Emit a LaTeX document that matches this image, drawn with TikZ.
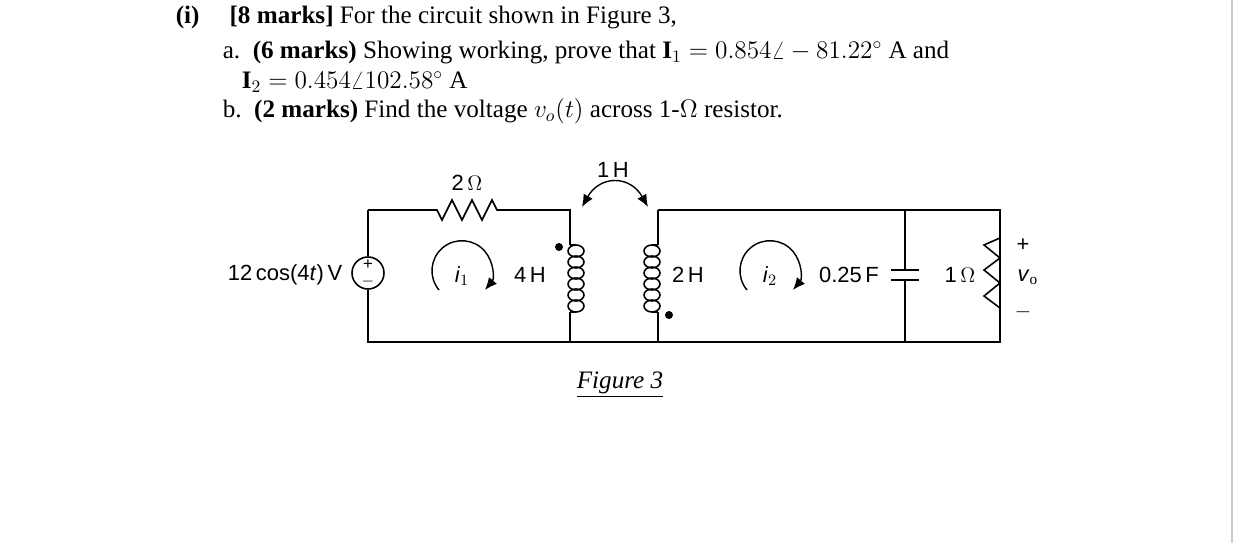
\documentclass[tikz,border=0pt]{standalone}
\usepackage{fontspec}
\setmainfont{Liberation Serif}
\newfontfamily\circfont{Liberation Sans}
\usetikzlibrary{arrows.meta}
\begin{document}
\begin{tikzpicture}[x=0.02cm,y=-0.02cm,line width=0.9pt]
	\tikzset{lbl/.style={font=\circfont\fontsize{12.5}{14}\selectfont,inner sep=0pt},
		txt/.style={font=\fontsize{14.3}{17}\selectfont,anchor=base west,inner sep=0pt},
		loopar/.style={-{Latex[length=7pt,width=6pt]},line width=0.8pt}}
	\useasboundingbox (0,0) rectangle (1242,543);
	\draw[gray!40,line width=0.6pt] (1232,0) -- (1232,543);
	% text of the question
	\node[txt] (q0) at (175,24) {\textbf{(i)}\hspace{1.2em}\textbf{[8 marks]} For the circuit shown in Figure 3,};
	\node[txt] (qa) at (222,59) {a.\ \ \textbf{(6 marks)} Showing working, prove that $\mathbf{I}_1=0.854\angle-81.22^\circ$ A and};
	\node[txt] (qa2) at (241,89) {$\mathbf{I}_2=0.454\angle102.58^\circ$ A};
	\node[txt] (qb) at (222,118) {b.\ \ \textbf{(2 marks)} Find the voltage $v_o(t)$ across 1-$\Omega$ resistor.};
	\node[txt,anchor=center] (fig) at (620,385) {\underline{\textit{Figure 3}}};
	% corners
	\coordinate (tl) at (368,210); \coordinate (bl) at (368,342);
	\coordinate (tm) at (570,210); \coordinate (bm) at (570,342);
	\coordinate (tn) at (658,210); \coordinate (bn) at (658,342);
	\coordinate (tc) at (905,210); \coordinate (bc) at (905,342);
	\coordinate (tr) at (1000,210); \coordinate (br) at (1000,342);
	% left mesh
	\node[circle,draw,minimum size=0.64cm,inner sep=0pt] (src) at (368,273) {};
	\node[font=\circfont\fontsize{9.5}{10}\selectfont,inner sep=0pt] at (368,265) {+};
	\node[font=\circfont\fontsize{9.5}{10}\selectfont,inner sep=0pt] at (368,282) {$-$};
	\draw (tl) -- (src.north); \draw (src.south) -- (bl) -- (br) -- (tr) -- (tn);
	\draw (tl) -- (437,210) -- (442,220) -- (452,200) -- (462,220) -- (472,200) -- (482,220) -- (492,200) -- (497,210) -- (tm) -- (570,245);
	\draw (570,312) -- (bm); \draw (tn) -- (658,245); \draw (658,312) -- (bn);
	% coils
	\foreach \k in {0,...,5}{
		\draw (576,251+\k*11) ellipse (8 and 6);
		\draw (652,251+\k*11) ellipse (8 and 6);}
	\draw (570,245) -- (576,245); \draw (570,312) -- (576,312);
	\draw (658,245) -- (652,245); \draw (658,312) -- (652,312);
	\fill (559,247) circle (4); \fill (669,315) circle (4);
	% capacitor and resistor
	\draw (tc) -- (905,270) (891,270) -- (919,270) (891,280) -- (919,280) (905,280) -- (bc);
	\draw (tr) -- (1000,238) -- (984,245) -- (1000,258) -- (984,270) -- (1000,283) -- (984,296) -- (1000,308) -- (1000,310) -- (br);
	% mutual and mesh arrows
	\draw[{Latex[length=7pt,width=6pt]}-{Latex[length=7pt,width=6pt]},line width=0.8pt] (582,207) .. controls (600,175) and (630,175) .. (648,207);
	\draw[loopar] (439,290) arc (140:400:30);
	\draw[loopar] (747,290) arc (140:400:30);
	% labels
	\node[lbl] (r2) at (467,183) {2\,$\Omega$};
	\node[lbl] (mh) at (613,170) {1\,H};
	\node[lbl,anchor=east] (vs) at (343,275) {12\,cos(4\textit{t})\,V};
	\node[lbl] (i1) at (462,276) {\textit{i}$_1$};
	\node[lbl] (i2) at (770,276) {\textit{i}$_2$};
	\node[lbl] (l4) at (530,275) {4\,H};
	\node[lbl] (l2) at (688,275) {2\,H};
	\node[lbl] (c) at (849,275) {0.25\,F};
	\node[lbl] (r1) at (960,275) {1\,$\Omega$};
	\node[lbl] (vp) at (1023,245) {+};
	\node[lbl] (vo) at (1028,277) {\textit{v}$_\mathrm{o}$};
	\node[lbl] (vm) at (1023,312) {$-$};
\end{tikzpicture}
\end{document}
